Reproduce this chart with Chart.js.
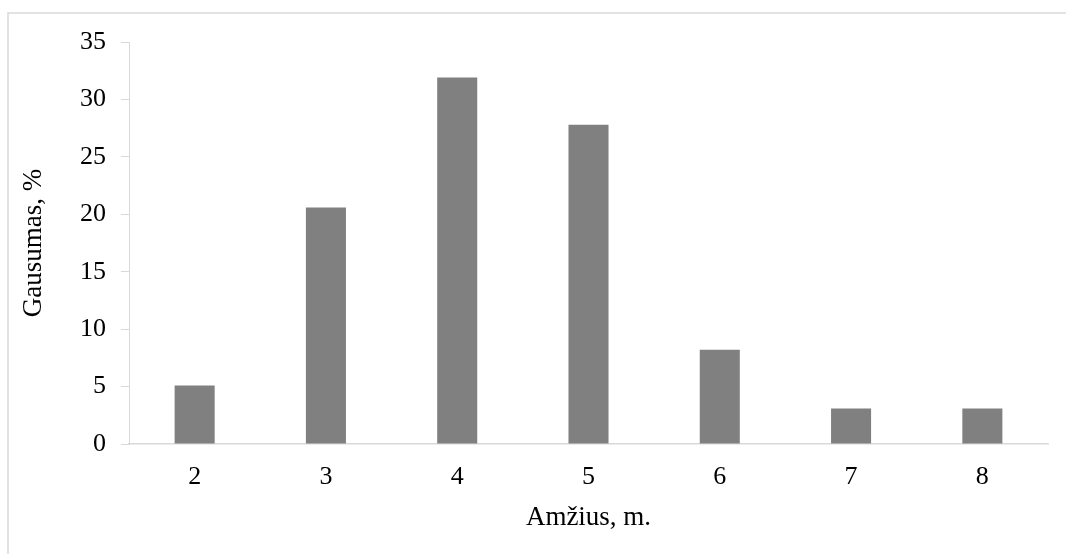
<!DOCTYPE html>
<html>
<head>
<meta charset="utf-8">
<script src="https://cdn.jsdelivr.net/npm/chart.js@4/dist/chart.umd.min.js"></script>
<style>
  html, body { margin: 0; padding: 0; background: #fff; }
  #wrap { position: relative; width: 1066px; height: 554px; }
</style>
</head>
<body>
<div id="wrap"><canvas id="myChart" width="1066" height="554"></canvas></div>
<script>
var ages = ['2', '3', '4', '5', '6', '7', '8'];
var gausumas = [5.1, 20.6, 31.9, 27.8, 8.2, 3.1, 3.1];
var yTicks = [0, 5, 10, 15, 20, 25, 30, 35];

var serif = "'Liberation Serif', 'Times New Roman', serif";

// light grey frame round the chart (only top and left edges are visible)
var frame = {
  id: 'frame',
  beforeDraw: function(chart) {
    var c = chart.ctx;
    c.save();
    c.strokeStyle = '#d9d9d9';
    c.lineWidth = 1.5;
    c.beginPath();
    c.moveTo(8, 554);
    c.lineTo(8, 13);
    c.lineTo(1066, 13);
    c.stroke();
    c.restore();
  }
};

var ctx = document.getElementById('myChart').getContext('2d');
var myChart = new Chart(ctx, {
  type: 'bar',
  data: {
    labels: ages,
    datasets: [{
      data: gausumas,
      backgroundColor: '#808080',
      barPercentage: 0.305,
      categoryPercentage: 1
    }]
  },
  options: {
    responsive: false,
    animation: false,
    layout: { padding: { left: 8, right: 18, top: 42, bottom: 0 } },
    plugins: {
      legend: { display: false },
      tooltip: { enabled: false }
    },
    scales: {
      x: {
        grid: { display: false, drawTicks: false },
        border: { display: true, color: '#d9d9d9', width: 1.5 },
        ticks: { color: '#000', padding: 18, font: { family: serif, size: 26 } },
        title: {
          display: true,
          text: 'Amžius, m.',
          color: '#000',
          font: { family: serif, size: 27 },
          padding: { top: 0, bottom: 20 }
        },
        afterFit: function(s) { s.height = 110; }
      },
      y: {
        min: 0,
        max: 35,
        afterBuildTicks: function(s) {
          s.ticks = yTicks.map(function(v) { return { value: v }; });
        },
        grid: { drawOnChartArea: false, drawTicks: true, tickLength: 8, color: '#d9d9d9' },
        border: { display: true, color: '#d9d9d9', width: 1 },
        ticks: { color: '#000', padding: 15, font: { family: serif, size: 26 } },
        title: {
          display: true,
          text: 'Gausumas, %',
          color: '#000',
          font: { family: serif, size: 27 },
          padding: { top: 10, bottom: 0 }
        },
        afterFit: function(s) { s.width = 121; }
      }
    }
  },
  plugins: [frame]
});
</script>
</body>
</html>
